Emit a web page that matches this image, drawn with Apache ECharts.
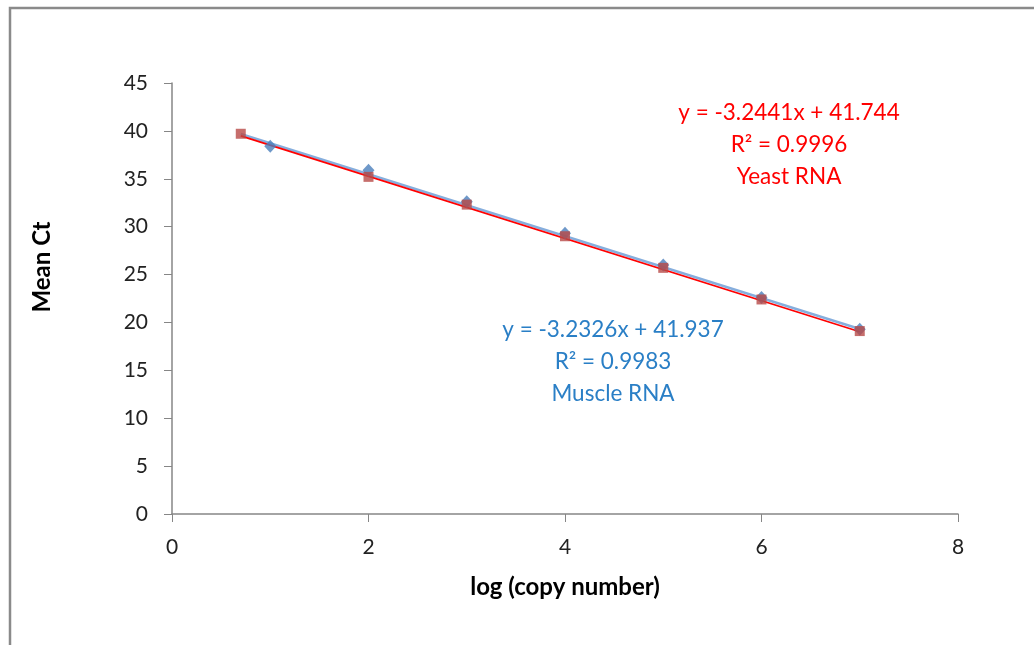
<!DOCTYPE html>
<html>
<head>
<meta charset="utf-8">
<script src="https://cdn.jsdelivr.net/npm/echarts@6/dist/echarts.min.js"></script>
<style>
  html, body { margin: 0; padding: 0; background: #fff; }
  #chart { width: 1034px; height: 645px; }
</style>
</head>
<body>
<div id="chart"></div>
<script>
// Muscle RNA (blue diamonds)
const muscleX = [1, 2, 3, 4, 5, 6, 7];
const muscleCt = [38.4, 35.9, 32.6, 29.3, 26.0, 22.6, 19.3];
// Yeast RNA (red squares)
const yeastX = [0.7, 2, 3, 4, 5, 6, 7];
const yeastCt = [39.7, 35.2, 32.3, 29.0, 25.7, 22.4, 19.1];
// trendline endpoints
const muscleTrend = [[0.7, 39.67], [7, 19.31]];
const yeastTrend = [[0.7, 39.47], [7, 19.03]];
const muscleLabel = ['y = -3.2326x + 41.937', 'R² = 0.9983', 'Muscle RNA'];
const yeastLabel = ['y = -3.2441x + 41.744', 'R² = 0.9996', 'Yeast RNA'];

const font = 'Lato, "Open Sans", sans-serif';

function pairs(xs, ys) {
    return xs.map((x, i) => [x, ys[i]]);
}

let chart = echarts.init(document.getElementById('chart'));

let option = {
    backgroundColor: '#fff',
    animation: false,
    grid: { left: 172, right: 76, top: 83, bottom: 131 },
    xAxis: {
        type: 'value',
        min: 0, max: 8, interval: 2,
        name: 'log (copy number)',
        nameLocation: 'middle',
        nameGap: 61,
        nameTextStyle: { fontFamily: font, fontSize: 24, fontWeight: 'bold', color: '#000' },
        axisLine: { lineStyle: { color: '#868686', width: 1.5 } },
        axisTick: { show: true, length: 8, lineStyle: { color: '#868686' } },
        axisLabel: { fontFamily: font, fontSize: 21, color: '#222', margin: 23 },
        splitLine: { show: false }
    },
    yAxis: {
        type: 'value',
        min: 0, max: 45, interval: 5,
        axisLine: { show: true, lineStyle: { color: '#868686', width: 1.5 } },
        axisTick: { show: true, length: 8, lineStyle: { color: '#868686' } },
        axisLabel: { fontFamily: font, fontSize: 21, color: '#222', margin: 24 },
        splitLine: { show: false }
    },
    graphic: [
        {
            type: 'polyline',
            shape: { points: [[10, 645], [10, 8], [1034, 8]] },
            style: { stroke: '#8a8a8a', lineWidth: 2.5, fill: null }
        },
        {
            // y-axis title sits above the grid centre in the original
            type: 'text', z: 10,
            x: 42, y: 267, rotation: Math.PI / 2,
            style: {
                text: 'Mean Ct', fill: '#000', align: 'center', verticalAlign: 'middle',
                font: 'bold 24px ' + font
            }
        },
        {
            type: 'text', z: 10,
            style: {
                text: yeastLabel.join('\n'), fill: '#ff0000', align: 'center',
                font: '22.5px ' + font, lineHeight: 32, verticalAlign: 'middle'
            },
            x: 789, y: 145
        },
        {
            type: 'text', z: 10,
            style: {
                text: muscleLabel.join('\n'), fill: '#2a7fc6', align: 'center',
                font: '22.5px ' + font, lineHeight: 32, verticalAlign: 'middle'
            },
            x: 613, y: 362
        }
    ],
    series: [
        {
            name: 'Muscle trend', type: 'line', data: muscleTrend,
            symbol: 'none', lineStyle: { color: '#86aedd', width: 2.5 }, z: 2
        },
        {
            name: 'Yeast trend', type: 'line', data: yeastTrend,
            symbol: 'none', lineStyle: { color: '#ff0000', width: 1.8 }, z: 3
        },
        {
            name: 'Muscle RNA', type: 'scatter', data: pairs(muscleX, muscleCt),
            symbol: 'diamond', symbolSize: [12, 13],
            itemStyle: { color: '#4a7ebb' }, z: 4
        },
        {
            name: 'Yeast RNA', type: 'scatter', data: pairs(yeastX, yeastCt),
            symbol: 'rect', symbolSize: 10,
            itemStyle: { color: '#b84a47' }, z: 5
        }
    ]
};

chart.setOption(option);
</script>
</body>
</html>
